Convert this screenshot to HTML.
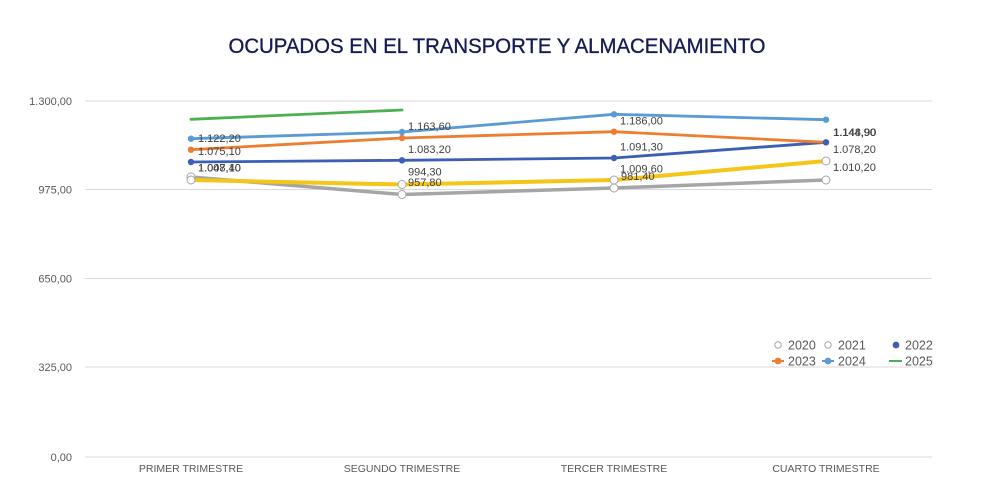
<!DOCTYPE html>
<html>
<head>
<meta charset="utf-8">
<style>
html,body{margin:0;padding:0;background:#fff;}
svg{display:block;}
text{font-family:"Liberation Sans",sans-serif;}
</style>
</head>
<body>
<svg width="1000" height="500" viewBox="0 0 1000 500" xmlns="http://www.w3.org/2000/svg">
<rect width="1000" height="500" fill="#fff"/>
<text x="497" y="53" text-anchor="middle" font-size="21.5" fill="#161b55" stroke="#161b55" stroke-width="0.35" textLength="537" lengthAdjust="spacingAndGlyphs">OCUPADOS EN EL TRANSPORTE Y ALMACENAMIENTO</text>

<!-- grid -->
<g stroke="#d9d9d9" stroke-width="1">
<line x1="85" y1="101" x2="932" y2="101"/>
<line x1="85" y1="189.5" x2="932" y2="189.5"/>
<line x1="85" y1="278.5" x2="932" y2="278.5"/>
<line x1="85" y1="367" x2="932" y2="367"/>
<line x1="85" y1="457" x2="932" y2="457"/>
</g>
<g font-size="11" fill="#595959" text-anchor="end">
<text x="72" y="105">1.300,00</text>
<text x="72" y="193.5">975,00</text>
<text x="72" y="282.5">650,00</text>
<text x="72" y="371">325,00</text>
<text x="72" y="461">0,00</text>
</g>
<g font-size="10.5" fill="#595959" text-anchor="middle">
<text x="191" y="472">PRIMER TRIMESTRE</text>
<text x="402" y="472">SEGUNDO TRIMESTRE</text>
<text x="614" y="472">TERCER TRIMESTRE</text>
<text x="826" y="472">CUARTO TRIMESTRE</text>
</g>

<!-- series -->
<g fill="none" stroke-linejoin="round" stroke-linecap="round">
<polyline points="191,177 402,194.5 614,188 826,180" stroke="#a5a5a5" stroke-width="3.5"/>
<polyline points="191,180 402,184.5 614,180 826,161" stroke="#f5c518" stroke-width="4"/>
<polyline points="191,162 402,160.3 614,158 826,142.3" stroke="#3d5eb5" stroke-width="2.8"/>
<polyline points="191,149.7 402,138 614,131.7 826,142.3" stroke="#ed7d31" stroke-width="2.8"/>
<polyline points="191,138.7 402,132 614,114.3 826,119.7" stroke="#5b9bd5" stroke-width="2.8"/>
<polyline points="191,119.3 402,110" stroke="#4caf50" stroke-width="2.8"/>
</g>
<!-- markers -->
<g stroke-width="1">
<circle cx="191" cy="177" r="4" fill="#fff" stroke="#a5a5a5"/>
<circle cx="402" cy="194.5" r="4" fill="#fff" stroke="#a5a5a5"/>
<circle cx="614" cy="188" r="4" fill="#fff" stroke="#a5a5a5"/>
<circle cx="826" cy="180" r="4" fill="#fff" stroke="#a5a5a5"/>
<circle cx="191" cy="180" r="4" fill="#fff" stroke="#a5a5a5"/>
<circle cx="402" cy="184.5" r="4" fill="#fff" stroke="#a5a5a5"/>
<circle cx="614" cy="180" r="4" fill="#fff" stroke="#a5a5a5"/>
<circle cx="826" cy="161" r="4" fill="#fff" stroke="#a5a5a5"/>
</g>
<g>
<circle cx="191" cy="162" r="3.2" fill="#3d5eb5"/>
<circle cx="402" cy="160.3" r="3.2" fill="#3d5eb5"/>
<circle cx="614" cy="158" r="3.2" fill="#3d5eb5"/>
<circle cx="826" cy="142.3" r="3.2" fill="#3d5eb5"/>
<circle cx="191" cy="149.7" r="3.2" fill="#ed7d31"/>
<circle cx="402" cy="138" r="3.2" fill="#ed7d31"/>
<circle cx="614" cy="131.7" r="3.2" fill="#ed7d31"/>
<circle cx="191" cy="138.7" r="3.2" fill="#5b9bd5"/>
<circle cx="402" cy="132" r="3.2" fill="#5b9bd5"/>
<circle cx="614" cy="114.3" r="3.2" fill="#5b9bd5"/>
<circle cx="826" cy="119.7" r="3.2" fill="#5b9bd5"/>
</g>

<!-- data labels -->
<g font-size="11" fill="#404040">
<text x="198" y="142">1.122,20</text>
<text x="198" y="155">1.075,10</text>
<text x="198" y="171.5">1.047,10</text>
<text x="198" y="171.5">1.008,40</text>
<text x="408" y="130">1.163,60</text>
<text x="408" y="153">1.083,20</text>
<text x="408" y="175.5">994,30</text>
<text x="408" y="186">957,80</text>
<text x="620" y="124.5">1.186,00</text>
<text x="620" y="150.5">1.091,30</text>
<text x="620" y="172.5">1.009,60</text>
<text x="621" y="180">981,40</text>
<text x="833" y="136">1.144,90</text>
<text x="833.5" y="136">1.148,90</text>
<text x="833" y="153">1.078,20</text>
<text x="833" y="171">1.010,20</text>
</g>

<!-- legend -->
<g font-size="12.5" fill="#595959">
<circle cx="778" cy="345" r="3.2" fill="#fff" stroke="#a5a5a5"/>
<text x="788" y="349.5">2020</text>
<circle cx="828" cy="345" r="3.2" fill="#fff" stroke="#a5a5a5"/>
<text x="838" y="349.5">2021</text>
<circle cx="896" cy="345" r="3.4" fill="#3d5eb5"/>
<text x="905" y="349.5">2022</text>
<line x1="772" y1="361" x2="784" y2="361" stroke="#ed7d31" stroke-width="2"/>
<circle cx="778" cy="361" r="3.4" fill="#ed7d31"/>
<text x="788" y="365.5">2023</text>
<line x1="822" y1="361" x2="834" y2="361" stroke="#5b9bd5" stroke-width="2"/>
<circle cx="828" cy="361" r="3.4" fill="#5b9bd5"/>
<text x="838" y="365.5">2024</text>
<line x1="889" y1="361" x2="902" y2="361" stroke="#4caf50" stroke-width="2"/>
<text x="905" y="365.5">2025</text>
</g>
</svg>
</body>
</html>
